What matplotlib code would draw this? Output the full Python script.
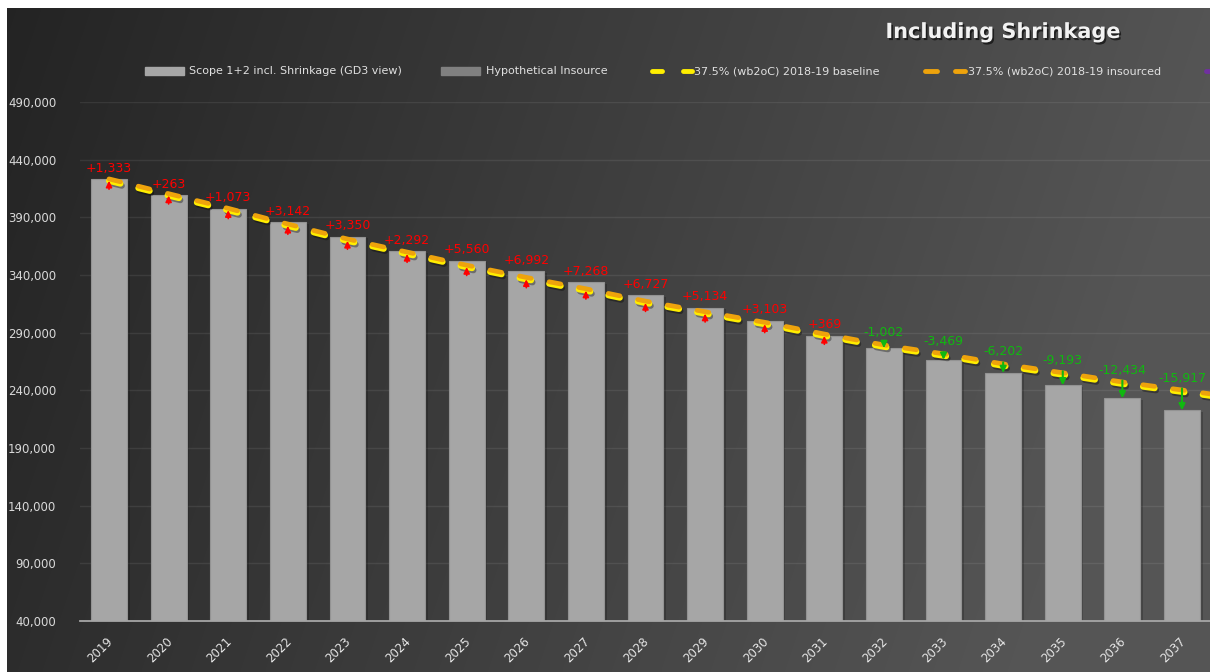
import matplotlib
matplotlib.use("Agg")
import matplotlib.pyplot as plt
import matplotlib.patheffects as pe
from matplotlib.patches import Rectangle
from matplotlib.lines import Line2D
from matplotlib.ticker import FixedLocator, FuncFormatter
from matplotlib import font_manager
import numpy as np

# ---------------- data ----------------
years = [str(y) for y in range(2019, 2038)]
scope_values = [422950, 409100, 397200, 385700, 372900, 360500, 352400, 343200,
                333650, 322400, 311600, 300400, 287500, 276700, 266500, 255000,
                244350, 233100, 222700]
diff_values = [1333, 263, 1073, 3142, 3350, 2292, 5560, 6992, 7268, 6727, 5134,
               3103, 369, -1002, -3469, -6202, -9193, -12434, -15917]
diff_labels = ["+1,333", "+263", "+1,073", "+3,142", "+3,350", "+2,292", "+5,560",
               "+6,992", "+7,268", "+6,727", "+5,134", "+3,103", "+369", "-1,002",
               "-3,469", "-6,202", "-9,193", "-12,434", "-15,917"]
# target lines (last point = 2038, beyond the visible area)
baseline_values = [421617, 408837, 396127, 382558, 369550, 358208, 346840, 336208,
                   326382, 315673, 306466, 297297, 287131, 277702, 269969, 261202,
                   253543, 245534, 238617, 231500]
insourced_values = [423300, 410500, 397800, 384200, 371200, 359900, 348500, 337900,
                    328050, 317350, 308150, 298980, 288810, 279380, 271650, 262880,
                    255220, 247210, 240300, 233200]
yticks = [40000, 90000, 140000, 190000, 240000, 290000, 340000, 390000, 440000, 490000]

legend_labels = ["Scope 1+2 incl. Shrinkage (GD3 view)", "Hypothetical Insource",
                 "37.5% (wb2oC) 2018-19 baseline", "37.5% (wb2oC) 2018-19 insourced"]
title_text = "Including Shrinkage"

# ---------------- fonts ----------------
plt.rcParams["lines.scale_dashes"] = False
_names = {f.name for f in font_manager.fontManager.ttflist}
if "Liberation Sans Narrow" in _names:
    LEG_FAMILY, LEG_SIZE = ["Liberation Sans Narrow", "DejaVu Sans"], 9
else:
    LEG_FAMILY, LEG_SIZE = ["DejaVu Sans"], 8

# ---------------- figure ----------------
W, H = 1210, 672
fig = plt.figure(figsize=(W / 100, H / 100), dpi=100, facecolor="white")

def fx(px):
    return px / W

def fy(py):
    return 1 - py / H

# gradient background
bg = fig.add_axes([fx(7), 0, (W - 7) / W, (H - 8) / H])
bg.set_axis_off()
nx, ny = 300, 150
xx = np.linspace(0, 1, nx)[None, :]
yy = np.linspace(0, 1, ny)[:, None]
v = 0.14 + 0.19 * xx + 0.035 * yy
v = np.clip(v, 0, 0.335)
img = np.dstack([v, v, v])
bg.imshow(img, aspect="auto", extent=[0, 1, 0, 1], origin="upper", interpolation="bilinear")
bg.set_zorder(-10)

ax = fig.add_axes([fx(80), fy(621), (W - 80) / W, (621 - 102) / H])
ax.patch.set_alpha(0)
x = np.arange(len(years))
ax.set_xlim(-0.487, 18.47)
ax.set_ylim(40000, 490000)

# grid
for t in yticks[1:]:
    ax.axhline(t, color="white", alpha=0.08, lw=1.0, zorder=0)

# bars
bars = ax.bar(x, scope_values, width=0.6, color="#a6a6a6", edgecolor="#939393",
              linewidth=0.8, zorder=2)
for b in bars:
    b.set_path_effects([pe.SimplePatchShadow(offset=(2, -1), alpha=0.2, shadow_rgbFace="black"),
                        pe.Normal()])

# target lines
lx = np.arange(len(baseline_values))
shadow = [pe.SimpleLineShadow(offset=(1.0, -1.5), alpha=0.35, shadow_color="black"), pe.Normal()]
ax.plot(lx, baseline_values, color="#ffee00", lw=4.3, linestyle=(0, (8.5, 13.2)),
        dash_capstyle="round", zorder=4, path_effects=shadow)
ax.plot(lx, insourced_values, color="#eea30c", lw=3.4, linestyle=(0, (8.5, 13.2)),
        dash_capstyle="round", zorder=5)

# arrows and labels
for i in range(len(years)):
    d = diff_values[i]
    bv = scope_values[i]
    lv = baseline_values[i]
    ref = max(bv, lv)
    if d > 0:
        c = "#ff0000"
        ax.annotate("", xy=(i, lv), xytext=(0, -6), textcoords="offset points",
                    xycoords="data",
                    arrowprops=dict(arrowstyle="-|>", color=c, lw=1.2, mutation_scale=9,
                                    shrinkA=0, shrinkB=0), zorder=6)
        ax.annotate(diff_labels[i], xy=(i, ref), xytext=(0, 5.5), textcoords="offset points",
                    ha="center", va="baseline", color=c, fontsize=9, zorder=7)
    else:
        c = "#10b810"
        ax.annotate("", xy=(i, bv), xytext=(i, lv + 3000),
                    arrowprops=dict(arrowstyle="-|>", color=c, lw=1.5, mutation_scale=9,
                                    shrinkA=0, shrinkB=0), zorder=6)
        ax.annotate(diff_labels[i], xy=(i, ref), xytext=(0, 7.5), textcoords="offset points",
                    ha="center", va="baseline", color=c, fontsize=9, zorder=7)

# axes styling
for s in ["top", "right", "left"]:
    ax.spines[s].set_visible(False)
ax.spines["bottom"].set_color("#a6a6a6")
ax.spines["bottom"].set_linewidth(1.3)
ax.yaxis.set_major_locator(FixedLocator(yticks))
ax.yaxis.set_major_formatter(FuncFormatter(lambda v, p: f"{int(v):,}"))
ax.tick_params(axis="y", length=0, pad=17, labelsize=8.5, labelcolor="#d9d9d9")
ax.set_xticks(x)
ax.set_xticklabels(years, rotation=45, ha="right", va="top", rotation_mode="anchor")
ax.tick_params(axis="x", length=0, pad=10, labelsize=8.5, labelcolor="#e6e6e6")
for lab in ax.get_xticklabels():
    lab.set_transform(lab.get_transform() + matplotlib.transforms.ScaledTranslation(-3 / 100, 0, fig.dpi_scale_trans))

# title
fig.text(fx(1003), fy(32), title_text, ha="center", va="center", fontsize=15,
         fontweight="bold", color="#f2f2f2",
         path_effects=[pe.withSimplePatchShadow(offset=(1.2, -1.5), shadow_rgbFace="black", alpha=0.6)])

# legend (manual)
ly = 71
fig.patches.append(Rectangle((fx(145), fy(75)), 39 / W, 8 / H, transform=fig.transFigure,
                             color="#a6a6a6", zorder=3))
fig.text(fx(189), fy(ly), legend_labels[0], ha="left", va="center", fontsize=LEG_SIZE,
         family=LEG_FAMILY, color="#e0e0e0")
fig.patches.append(Rectangle((fx(441), fy(75)), 39 / W, 8 / H, transform=fig.transFigure,
                             color="#808080", zorder=3))
fig.text(fx(486), fy(ly), legend_labels[1], ha="left", va="center", fontsize=LEG_SIZE,
         family=LEG_FAMILY, color="#e0e0e0")
for (x0, x1) in [(652, 662), (683, 692)]:
    fig.lines.append(Line2D([fx(x0), fx(x1)], [fy(ly), fy(ly)], transform=fig.transFigure,
                            color="#ffee00", lw=3.5, solid_capstyle="round"))
fig.text(fx(694), fy(ly), legend_labels[2], ha="left", va="center", fontsize=LEG_SIZE,
         family=LEG_FAMILY, color="#e0e0e0")
for (x0, x1) in [(925, 937), (955, 965)]:
    fig.lines.append(Line2D([fx(x0), fx(x1)], [fy(ly), fy(ly)], transform=fig.transFigure,
                            color="#eea30c", lw=3.5, solid_capstyle="round"))
fig.text(fx(968), fy(ly), legend_labels[3], ha="left", va="center", fontsize=LEG_SIZE,
         family=LEG_FAMILY, color="#e0e0e0")
fig.lines.append(Line2D([fx(1206), fx(1212)], [fy(ly), fy(ly)], transform=fig.transFigure,
                        color="#7030a0", lw=3.5, solid_capstyle="round"))

fig.savefig("out.png", dpi=100, facecolor="white")
